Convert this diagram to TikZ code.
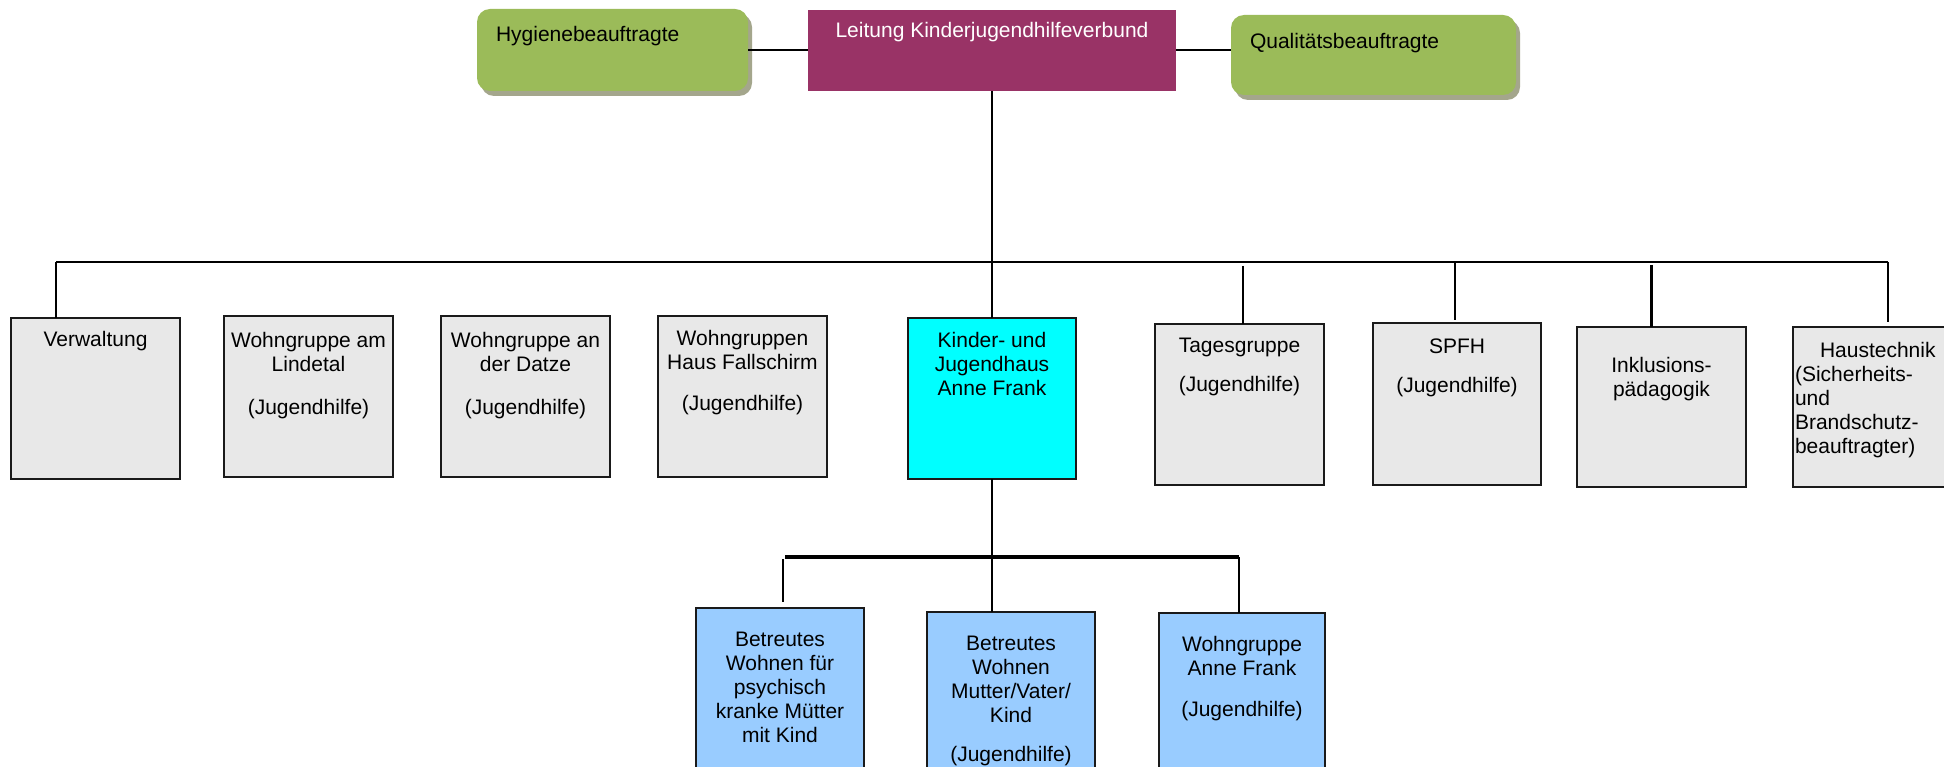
\documentclass[tikz,border=0pt]{standalone}
\usepackage{fontspec}
\setmainfont{Liberation Sans}
\usetikzlibrary{shadows}
\definecolor{grn}{HTML}{9BBB59}
\definecolor{grnshadow}{HTML}{A4A68C}
\definecolor{leitc}{HTML}{993366}
\definecolor{grayc}{HTML}{E8E8E8}
\definecolor{bluec}{HTML}{99CCFF}
\definecolor{cyanc}{HTML}{00FFFF}
\definecolor{edgec}{HTML}{1A1A1A}
\begin{document}
\begin{tikzpicture}[x=1pt,y=-1pt,
  box/.style={draw=edgec, line width=1.4pt, anchor=north west, inner sep=0pt, outer sep=0pt},
  graybox/.style={box, fill=grayc},
  bluebox/.style={box, fill=bluec},
  greenbox/.style={anchor=north west, inner sep=0pt, outer sep=0pt, fill=grn, rounded corners=13pt,
    drop shadow={shadow xshift=4pt, shadow yshift=-5pt, fill=grnshadow, opacity=1}},
  txt/.style={font=\fontsize{21}{24}\selectfont, inner sep=0pt, outer sep=0pt, align=center, anchor=north, text=black},
  conn/.style={draw=black, line width=2pt},
  lbus/.style={draw=black, line width=3.5pt},
]
\useasboundingbox (0,0) rectangle (1944,767);
\clip (0,0) rectangle (1944,767);
\fill[white] (0,0) rectangle (1944,767);

% header
\node[greenbox, minimum width=271pt, minimum height=82pt] (hyg) at (477,9) {};
\node[box, draw=none, fill=leitc, minimum width=368pt, minimum height=81pt] (leit) at (808,10) {};
\node[greenbox, minimum width=285pt, minimum height=80pt] (qual) at (1231,15) {};
\node[txt, anchor=north west, align=left] (hyg-t) at (496,26.5) {Hygienebeauftragte};
\node[txt, text=white] (leit-t) at (992,22.5) {Leitung Kinderjugendhilfeverbund};
\node[txt, anchor=north west, align=left] (qual-t) at (1250,33.5) {Qualitätsbeauftragte};

\draw[conn] (hyg.east) -- (hyg.east -| leit.west);
\draw[conn] (leit.east) -- (leit.east -| qual.west);

% second row
\node[graybox, minimum width=169pt, minimum height=161pt] (verw) at (11,318) {};
\node[graybox, minimum width=169pt, minimum height=161pt] (lind) at (224,316) {};
\node[graybox, minimum width=169pt, minimum height=161pt] (datz) at (441,316) {};
\node[graybox, minimum width=169pt, minimum height=161pt] (fall) at (658,316) {};
\node[box, fill=cyanc, minimum width=168pt, minimum height=161pt] (kind) at (908,318) {};
\node[graybox, minimum width=169pt, minimum height=161pt] (tag) at (1155,324) {};
\node[graybox, minimum width=168pt, minimum height=162pt] (spfh) at (1373,323) {};
\node[graybox, minimum width=169pt, minimum height=160pt] (inkl) at (1577,327) {};
\node[graybox, minimum width=175pt, minimum height=160pt] (haus) at (1793,327) {};

\node[txt] (verw-t) at (95.5,331.5) {Verwaltung};
\node[txt] (lind-t) at (308.5,332.5) {Wohngruppe am\\Lindetal\\[19pt](Jugendhilfe)};
\node[txt] (datz-t) at (525.5,332.5) {Wohngruppe an\\der Datze\\[19pt](Jugendhilfe)};
\node[txt] (fall-t) at (742.5,330.5) {Wohngruppen\\Haus Fallschirm\\[17pt](Jugendhilfe)};
\node[txt] (kind-t) at (992,332.5) {Kinder- und\\Jugendhaus\\Anne Frank};
\node[txt] (tag-t) at (1239.5,338.5) {Tagesgruppe\\[15pt](Jugendhilfe)};
\node[txt] (spfh-t) at (1457,338.5) {SPFH\\[15pt](Jugendhilfe)};
\node[txt] (inkl-t) at (1661.5,357.5) {Inklusions-\\pädagogik};
\node[txt, anchor=north west, align=left] (haus-t) at (1795,342.5) {\hspace*{25pt}Haustechnik\\(Sicherheits-\\und\\Brandschutz-\\beauftragter)};

% top connectors
\coordinate (busL) at (56,262);
\coordinate (busR) at (1888,262);
\coordinate (tagtop) at (1243,266);
\coordinate (spfhtop) at (1455,262);
\coordinate (inkltop) at (1651,265);
\draw[conn] (leit.south) -- (kind.north);
\draw[conn] (busL) -- (busR);
\draw[conn] (busL) -- (busL |- verw.north);
\draw[conn] (tagtop) -- (tagtop |- tag.north);
\draw[conn, shorten >=3pt] (spfhtop) -- (spfhtop |- spfh.north);
\draw[draw=black, line width=3pt] (inkltop) -- (inkltop |- inkl.north);
\draw[conn, shorten >=5pt] (busR) -- (busR |- haus.north);

% third row
\node[bluebox, minimum width=168pt, minimum height=200pt] (bwp) at (696,608) {};
\node[bluebox, minimum width=168pt, minimum height=200pt] (bwm) at (927,612) {};
\node[bluebox, minimum width=166pt, minimum height=200pt] (wgaf) at (1159,613) {};

\node[txt] (bwp-t) at (780,632.5) {Betreutes\\Wohnen für\\psychisch\\kranke Mütter\\mit Kind};
\node[txt] (bwm-t) at (1011,636.5) {Betreutes\\Wohnen\\Mutter/Vater/\\Kind\\[15pt](Jugendhilfe)};
\node[txt] (wgaf-t) at (1242,636.5) {Wohngruppe\\Anne Frank\\[17pt](Jugendhilfe)};

\coordinate (lbusL) at (785,557);
\coordinate (lbusR) at (1239,557);
\coordinate (ldrop) at (783,559);
\draw[conn] (kind.south) -- (kind.south |- bwm.north);
\draw[lbus] (lbusL) -- (lbusR);
\draw[conn, shorten >=6pt] (ldrop) -- (ldrop |- bwp.north);
\draw[conn] (lbusR) -- (lbusR |- wgaf.north);
\end{tikzpicture}
\end{document}
